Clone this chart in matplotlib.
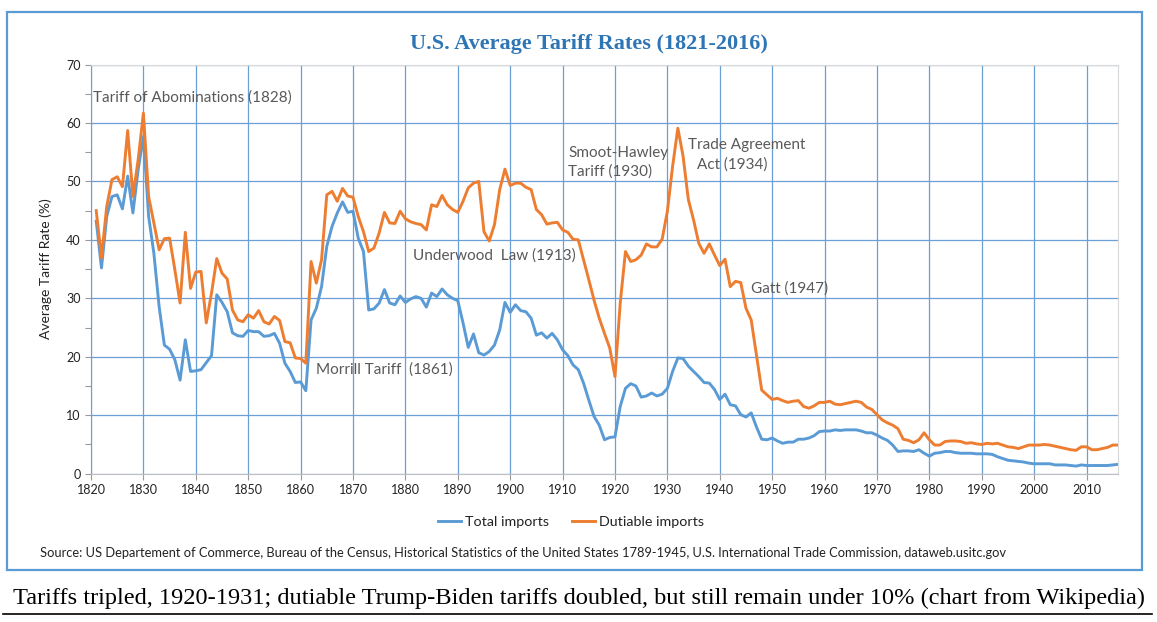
import matplotlib
matplotlib.use("Agg")
import matplotlib.pyplot as plt
from matplotlib.patches import Rectangle
from matplotlib.lines import Line2D
from matplotlib.ticker import MultipleLocator

years = list(range(1821, 2017))

# average tariff on total imports (%)
total_imports = [
    43.2, 35.2, 44.0, 47.4, 47.7, 45.3, 50.9, 44.6, 52.0, 57.7,   # 1821-1830
    44.0, 37.7, 28.6, 22.0, 21.3, 19.5, 16.0, 22.9, 17.5, 17.6,   # 1831-1840
    17.8, 19.0, 20.2, 30.6, 29.3, 27.7, 24.1, 23.6, 23.5, 24.5,   # 1841-1850
    24.3, 24.3, 23.5, 23.6, 24.0, 22.3, 18.9, 17.5, 15.6, 15.7,   # 1851-1860
    14.2, 26.3, 28.3, 32.0, 38.9, 42.3, 44.6, 46.5, 44.7, 44.9,   # 1861-1870
    40.3, 38.0, 28.0, 28.2, 29.2, 31.5, 29.2, 28.9, 30.4, 29.3,   # 1871-1880
    29.9, 30.3, 30.0, 28.5, 30.9, 30.3, 31.6, 30.6, 30.0, 29.6,   # 1881-1890
    25.8, 21.6, 23.9, 20.7, 20.3, 20.9, 22.0, 24.6, 29.3, 27.6,   # 1891-1900
    28.9, 27.9, 27.7, 26.6, 23.7, 24.1, 23.2, 24.0, 22.9, 21.2,   # 1901-1910
    20.2, 18.6, 17.8, 15.5, 12.6, 9.8, 8.3, 5.8, 6.2, 6.3,        # 1911-1920
    11.5, 14.6, 15.4, 15.0, 13.1, 13.3, 13.8, 13.3, 13.6, 14.6,   # 1921-1930
    17.5, 19.8, 19.7, 18.4, 17.5, 16.6, 15.6, 15.5, 14.4, 12.7,   # 1931-1940
    13.6, 11.8, 11.6, 10.1, 9.7, 10.4, 8.0, 5.9, 5.8, 6.1,        # 1941-1950
    5.6, 5.2, 5.4, 5.4, 5.9, 5.9, 6.1, 6.5, 7.2, 7.3,             # 1951-1960
    7.3, 7.5, 7.4, 7.5, 7.5, 7.5, 7.3, 7.0, 7.0, 6.6,             # 1961-1970
    6.1, 5.7, 4.9, 3.8, 3.9, 3.9, 3.8, 4.1, 3.5, 3.0,             # 1971-1980
    3.5, 3.6, 3.8, 3.8, 3.6, 3.5, 3.5, 3.5, 3.4, 3.4,             # 1981-1990
    3.4, 3.3, 2.9, 2.6, 2.3, 2.2, 2.1, 2.0, 1.8, 1.7,             # 1991-2000
    1.7, 1.7, 1.7, 1.5, 1.5, 1.5, 1.4, 1.3, 1.5, 1.4,             # 2001-2010
    1.4, 1.4, 1.4, 1.4, 1.5, 1.6,                                 # 2011-2016
]

# average tariff on dutiable imports (%)
dutiable_imports = [
    45.0, 36.9, 45.7, 50.3, 50.8, 49.1, 58.7, 47.4, 53.7, 61.7,   # 1821-1830
    47.4, 42.9, 38.3, 40.2, 40.3, 34.9, 29.2, 41.3, 31.7, 34.5,   # 1831-1840
    34.6, 25.8, 30.9, 36.8, 34.3, 33.3, 28.0, 26.3, 26.0, 27.2,   # 1841-1850
    26.6, 27.9, 26.0, 25.6, 26.9, 26.2, 22.6, 22.4, 19.8, 19.7,   # 1851-1860
    18.9, 36.3, 32.6, 36.6, 47.7, 48.3, 46.6, 48.8, 47.5, 47.3,   # 1861-1870
    44.0, 41.4, 38.0, 38.6, 41.2, 44.7, 42.9, 42.8, 44.9, 43.6,   # 1871-1880
    43.1, 42.8, 42.6, 41.7, 46.0, 45.7, 47.6, 46.0, 45.2, 44.7,   # 1881-1890
    46.6, 48.9, 49.7, 50.0, 41.4, 39.8, 42.6, 48.6, 52.1, 49.3,   # 1891-1900
    49.7, 49.7, 49.0, 48.6, 45.2, 44.3, 42.7, 42.9, 43.0, 41.7,   # 1901-1910
    41.3, 40.1, 40.0, 36.6, 33.2, 29.7, 26.6, 24.0, 21.5, 16.6,   # 1911-1920
    29.2, 38.0, 36.3, 36.6, 37.4, 39.3, 38.8, 38.8, 40.1, 44.9,   # 1921-1930
    52.6, 59.1, 54.3, 46.9, 43.4, 39.4, 37.7, 39.3, 37.4, 35.6,   # 1931-1940
    36.7, 32.0, 32.9, 32.7, 28.3, 26.3, 20.3, 14.3, 13.5, 12.7,   # 1941-1950
    12.9, 12.5, 12.2, 12.4, 12.5, 11.5, 11.2, 11.6, 12.2, 12.2,   # 1951-1960
    12.4, 11.9, 11.8, 12.0, 12.2, 12.4, 12.2, 11.4, 11.0, 10.1,   # 1961-1970
    9.2, 8.7, 8.3, 7.7, 5.9, 5.7, 5.3, 5.8, 7.0, 5.8,             # 1971-1980
    4.9, 4.9, 5.5, 5.6, 5.6, 5.5, 5.2, 5.3, 5.1, 5.0,             # 1981-1990
    5.2, 5.1, 5.2, 4.9, 4.6, 4.5, 4.3, 4.6, 4.9, 4.9,             # 1991-2000
    4.9, 5.0, 4.9, 4.7, 4.5, 4.3, 4.1, 4.0, 4.6, 4.6,             # 2001-2010
    4.1, 4.1, 4.3, 4.5, 4.9, 4.9,                                 # 2011-2016
]

# (text, x, y) in data units
annotations = [
    ("Tariff of Abominations (1828)", 1820.4, 64.3),
    ("Morrill Tariff  (1861)", 1863.0, 17.8),
    ("Underwood  Law (1913)", 1881.5, 37.4),
    ("Smoot-Hawley", 1911.1, 54.9),
    ("Tariff (1930)", 1911.1, 51.7),
    ("Trade Agreement", 1934.0, 56.3),
    ("Act (1934)", 1935.6, 52.9),
    ("Gatt (1947)", 1945.9, 31.6),
]

BLUE = "#5B9BD5"
ORANGE = "#ED7D31"
GRID = "#6C9FD6"
TEXT = "#595959"

plt.rcParams["font.family"] = ["Lato", "DejaVu Sans"]

fig = plt.figure(figsize=(11.57, 6.22), dpi=100)
W, H = 1157, 622

def fx(px):
    return px / W

def fy(py):
    return 1 - py / H

# outer chart frame
fig.add_artist(Rectangle((fx(7), fy(570)), fx(1142) - fx(7), fy(12) - fy(570),
                         transform=fig.transFigure, fill=False,
                         edgecolor=BLUE, linewidth=1.6))

ax = fig.add_axes([fx(91), fy(473.7), fx(1118) - fx(91), fy(64.5) - fy(473.7)])

ax.plot(years, total_imports, color=BLUE, linewidth=2.1, label="Total imports")
ax.plot(years, dutiable_imports, color=ORANGE, linewidth=2.1, label="Dutiable imports")

ax.set_xlim(1820, 2016)
ax.set_ylim(0, 70)
ax.set_xticks(range(1820, 2011, 10))
ax.set_yticks(range(0, 71, 10))
ax.yaxis.set_minor_locator(MultipleLocator(5))
ax.grid(True, which="major", color=GRID, linewidth=0.9)
ax.set_axisbelow(True)
ax.tick_params(axis="both", which="major", labelsize=9, colors="#9a9a9a",
               labelcolor="#222222", length=4, width=0.8)
ax.tick_params(axis="y", which="minor", colors="#9a9a9a", length=4, width=0.8)
for side in ["top", "right"]:
    ax.spines[side].set_color("#d9d9d9")
ax.spines["left"].set_color(GRID)
ax.spines["bottom"].set_color("#bfbfbf")

ax.set_ylabel("Average Tariff Rate (%)", fontsize=10, color="#222222", labelpad=10)

for txt, x, y in annotations:
    ax.text(x, y, txt, fontsize=11, color=TEXT, ha="left", va="center")

fig.text(fx(589), fy(44), "U.S. Average Tariff Rates (1821-2016)",
         family=["Liberation Serif"], fontweight="bold", fontsize=16,
         color="#2E75B6", ha="center", va="center")

fig.legend(loc="center", bbox_to_anchor=(fx(571), fy(522)), ncol=2, frameon=False,
           fontsize=10.3, handlelength=1.6, handletextpad=0.3, columnspacing=1.6,
           labelcolor="#222222")

fig.text(fx(40), fy(553),
         "Source: US Departement of Commerce, Bureau of the Census, Historical Statistics "
         "of the United States 1789-1945, U.S. International Trade Commission, dataweb.usitc.gov",
         fontsize=9.3, color="#222222", ha="left", va="center")

fig.text(fx(579), fy(598),
         "Tariffs tripled, 1920-1931; dutiable Trump-Biden tariffs doubled, but still remain "
         "under 10% (chart from Wikipedia)",
         family=["Liberation Serif"], fontsize=17.6, color="black", ha="center", va="center")
fig.add_artist(Line2D([fx(3), fx(1152)], [fy(614), fy(614)], transform=fig.transFigure,
                      color="black", linewidth=1.2))

fig.savefig("out.png", dpi=100, facecolor="white")
